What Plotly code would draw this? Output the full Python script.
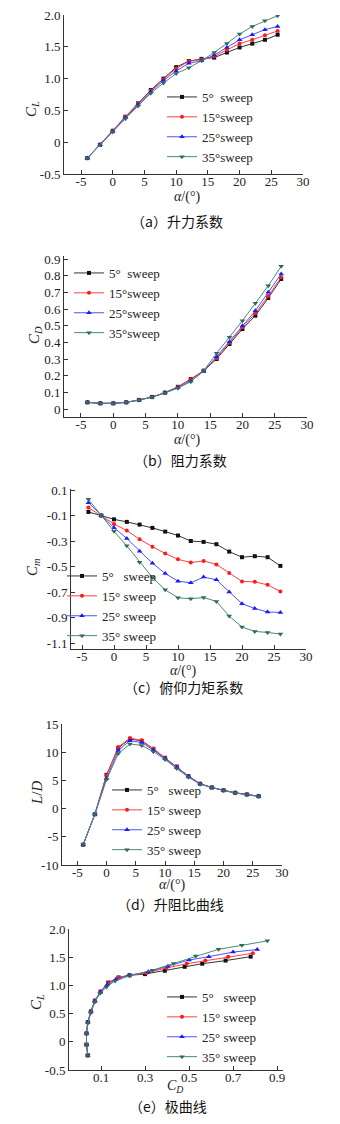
import plotly.graph_objects as go

# ---------------- data ----------------
alpha = [-4, -2, 0, 2, 4, 6, 8, 10, 12, 14, 16, 18, 20, 22, 24, 26]
series_names = ["5\u00b0\u00a0\u00a0sweep", "15\u00b0sweep", "25\u00b0sweep", "35\u00b0sweep"]
series_names_b = ["5\u00b0\u00a0\u00a0\u00a0sweep", "15\u00b0\u00a0sweep", "25\u00b0\u00a0sweep", "35\u00b0\u00a0sweep"]

cl_5 = [-0.25, -0.04, 0.18, 0.40, 0.61, 0.82, 1.00, 1.18, 1.275, 1.31, 1.33, 1.41, 1.49, 1.55, 1.61, 1.69]
cl_15 = [-0.25, -0.04, 0.18, 0.40, 0.61, 0.81, 0.99, 1.16, 1.27, 1.30, 1.35, 1.45, 1.55, 1.61, 1.68, 1.75]
cl_25 = [-0.25, -0.04, 0.17, 0.39, 0.59, 0.79, 0.97, 1.12, 1.24, 1.28, 1.37, 1.49, 1.61, 1.69, 1.77, 1.82]
cl_35 = [-0.25, -0.04, 0.16, 0.37, 0.57, 0.77, 0.93, 1.08, 1.17, 1.28, 1.41, 1.55, 1.70, 1.82, 1.91, 1.99]

cd_5 = [0.040, 0.034, 0.034, 0.040, 0.054, 0.072, 0.098, 0.133, 0.180, 0.230, 0.300, 0.390, 0.480, 0.560, 0.666, 0.780]
cd_15 = [0.040, 0.034, 0.034, 0.040, 0.054, 0.072, 0.098, 0.132, 0.178, 0.230, 0.306, 0.398, 0.490, 0.574, 0.678, 0.790]
cd_25 = [0.040, 0.034, 0.034, 0.040, 0.054, 0.072, 0.097, 0.128, 0.168, 0.226, 0.314, 0.404, 0.500, 0.590, 0.700, 0.810]
cd_35 = [0.040, 0.034, 0.034, 0.040, 0.054, 0.071, 0.096, 0.125, 0.164, 0.230, 0.334, 0.430, 0.530, 0.634, 0.740, 0.856]

cm_5 = [-0.072, -0.10, -0.13, -0.15, -0.171, -0.197, -0.226, -0.257, -0.30, -0.307, -0.325, -0.383, -0.427, -0.419, -0.427, -0.495]
cm_15 = [-0.038, -0.10, -0.166, -0.218, -0.286, -0.344, -0.398, -0.443, -0.469, -0.456, -0.484, -0.55, -0.617, -0.62, -0.644, -0.696]
cm_25 = [0.001, -0.10, -0.195, -0.28, -0.38, -0.474, -0.555, -0.615, -0.628, -0.583, -0.604, -0.70, -0.792, -0.829, -0.857, -0.86]
cm_35 = [0.027, -0.10, -0.224, -0.338, -0.466, -0.586, -0.683, -0.745, -0.753, -0.743, -0.774, -0.889, -0.975, -1.009, -1.017, -1.03]

ld_5 = [-6.4, -1.0, 6.0, 10.75, 12.35, 12.0, 10.6, 9.0, 7.45, 5.75, 4.4, 3.75, 3.25, 2.8, 2.5, 2.2]
ld_15 = [-6.4, -1.0, 5.9, 10.9, 12.5, 12.1, 10.6, 9.0, 7.45, 5.75, 4.4, 3.75, 3.25, 2.8, 2.5, 2.2]
ld_25 = [-6.4, -1.0, 5.4, 10.3, 12.05, 11.7, 10.4, 8.9, 7.3, 5.7, 4.4, 3.7, 3.2, 2.8, 2.5, 2.2]
ld_35 = [-6.4, -1.0, 5.15, 9.75, 11.46, 11.2, 10.1, 8.7, 7.1, 5.55, 4.3, 3.7, 3.2, 2.75, 2.45, 2.15]

polar_cl_5 = [-0.24, -0.05, 0.15, 0.35, 0.54, 0.73, 0.89, 1.05, 1.14, 1.18, 1.20, 1.26, 1.33, 1.385, 1.44, 1.51]
polar_cl_15 = [-0.24, -0.05, 0.15, 0.35, 0.54, 0.73, 0.89, 1.04, 1.14, 1.18, 1.22, 1.31, 1.385, 1.44, 1.51, 1.57]
polar_cl_25 = [-0.24, -0.05, 0.15, 0.35, 0.53, 0.72, 0.88, 1.01, 1.11, 1.18, 1.24, 1.34, 1.45, 1.51, 1.59, 1.636]
polar_cl_35 = [-0.24, -0.05, 0.14, 0.33, 0.52, 0.70, 0.86, 0.97, 1.08, 1.17, 1.27, 1.39, 1.52, 1.64, 1.71, 1.79]

alpha_ticks = [-5, 0, 5, 10, 15, 20, 25, 30]
alpha_ticktext = ["-5", "0", "5", "10", "15", "20", "25", "30"]
cl_ticks = [-0.5, 0, 0.5, 1.0, 1.5, 2.0]
cl_ticktext = ["-0.5", "0", "0.5", "1.0", "1.5", "2.0"]
cd_ticks = [0, 0.1, 0.2, 0.3, 0.4, 0.5, 0.6, 0.7, 0.8, 0.9]
cd_ticktext = ["0", "0.1", "0.2", "0.3", "0.4", "0.5", "0.6", "0.7", "0.8", "0.9"]
cm_ticks = [0.1, -0.1, -0.3, -0.5, -0.7, -0.9, -1.1]
cm_ticktext = ["0.1", "-0.1", "-0.3", "-0.5", "-0.7", "-0.9", "-1.1"]
ld_ticks = [-10, -5, 0, 5, 10, 15]
ld_ticktext = ["-10", "-5", "0", "5", "10", "15"]
polar_x_ticks = [0.1, 0.3, 0.5, 0.7, 0.9]
polar_x_ticktext = ["0.1", "0.3", "0.5", "0.7", "0.9"]

captions = ["（a）升力系数", "（b）阻力系数", "（c）俯仰力矩系数", "（d）升阻比曲线", "（e）极曲线"]

# ---------------- styles ----------------
W, H = 340, 1124
colors = ["#111111", "#ff1a1a", "#1a1aff", "#2f6b5c"]
line_colors = ["#333333", "#ff4040", "#5050ff", "#4d8a7a"]
symbols = ["square", "circle", "triangle-up", "triangle-down"]
msize = [4, 4, 5, 5]
SERIF = "Liberation Serif, Times New Roman, serif"
CJK = "Noto Sans CJK SC, Liberation Serif, serif"

def px_x(p):
    return p / W

def px_y(p):
    return 1 - p / H

panels = [
    dict(xd=(64, 303), yd=(15, 174), xr=[-7.68, 30], yr=[-0.5, 2.0]),
    dict(xd=(64, 307), yd=(256, 417), xr=[-7.63, 30], yr=[-0.048, 0.918]),
    dict(xd=(71, 306), yd=(489, 649), xr=[-6.72, 30], yr=[-1.147, 0.108]),
    dict(xd=(62, 282), yd=(724, 865), xr=[-7.62, 30], yr=[-10, 15]),
    dict(xd=(69, 283), yd=(929, 1070), xr=[-0.0455, 0.927], yr=[-0.5, 2.0]),
]

fig = go.Figure()

data_sets = [
    (alpha, [cl_5, cl_15, cl_25, cl_35]),
    (alpha, [cd_5, cd_15, cd_25, cd_35]),
    (alpha, [cm_5, cm_15, cm_25, cm_35]),
    (alpha, [ld_5, ld_15, ld_25, ld_35]),
    (None, [polar_cl_5, polar_cl_15, polar_cl_25, polar_cl_35]),
]
cds = [cd_5, cd_15, cd_25, cd_35]

for pi, (xs, ys_list) in enumerate(data_sets):
    sfx = "" if pi == 0 else str(pi + 1)
    names = series_names if pi < 2 else series_names_b
    for si, ys in enumerate(ys_list):
        xv = xs if xs is not None else cds[si]
        fig.add_trace(go.Scatter(
            x=xv, y=ys, mode="lines+markers", name=names[si],
            line=dict(color=line_colors[si], width=1),
            marker=dict(symbol=symbols[si], size=msize[si], color=colors[si]),
            xaxis="x" + sfx, yaxis="y" + sfx,
            legend="legend" + sfx, showlegend=True,
        ))

tick_font = dict(family=SERIF, size=13, color="#222222")
layout = dict(
    width=W, height=H, margin=dict(l=0, r=0, t=0, b=0),
    paper_bgcolor="white", plot_bgcolor="white",
    font=dict(family=SERIF, size=13, color="#222222"),
)

x_ticks = [(alpha_ticks, alpha_ticktext)] * 4 + [(polar_x_ticks, polar_x_ticktext)]
y_ticks = [(cl_ticks, cl_ticktext), (cd_ticks, cd_ticktext), (cm_ticks, cm_ticktext),
           (ld_ticks, ld_ticktext), (cl_ticks, cl_ticktext)]

for pi, p in enumerate(panels):
    sfx = "" if pi == 0 else str(pi + 1)
    ax_common = dict(showgrid=False, zeroline=False, showline=True, linecolor="#333333",
                     linewidth=1, ticks="inside", ticklen=4, tickcolor="#333333",
                     tickfont=tick_font, automargin=False, fixedrange=True)
    xt, xtt = x_ticks[pi]
    yt, ytt = y_ticks[pi]
    layout["xaxis" + sfx] = dict(
        ax_common, domain=[px_x(p["xd"][0]), px_x(p["xd"][1])], range=p["xr"],
        tickmode="array", tickvals=xt, ticktext=xtt,
        anchor="y" + sfx, ticklabelstandoff=-5,
    )
    layout["yaxis" + sfx] = dict(
        ax_common, domain=[px_y(p["yd"][1]), px_y(p["yd"][0])], range=p["yr"],
        tickmode="array", tickvals=yt, ticktext=ytt,
        anchor="x" + sfx, ticklabelstandoff=0,
    )

legend_pos = [(162, 82), (69, 258), (62, 561), (107, 775), (162, 982)]
for pi, (lx, ly) in enumerate(legend_pos):
    sfx = "" if pi == 0 else str(pi + 1)
    layout["legend" + sfx] = dict(
        x=px_x(lx), y=px_y(ly), xanchor="left", yanchor="top",
        bgcolor="rgba(0,0,0,0)", borderwidth=0,
        font=dict(family=SERIF, size=13, color="#222222"),
        itemwidth=30, tracegroupgap=0,
    )

annotations = []
cap_pos = [(177, 221), (180, 460), (183, 687), (170, 904), (168, 1106)]
for txt, (cx, cy) in zip(captions, cap_pos):
    annotations.append(dict(text=txt, x=px_x(cx), y=px_y(cy), xref="paper", yref="paper",
                            showarrow=False, xanchor="center", yanchor="middle",
                            font=dict(family=CJK, size=14, color="#111111")))
xtitles = [("<i>α</i>/(°)", 187, 197), ("<i>α</i>/(°)", 187, 440), ("<i>α</i>/(°)", 183, 671),
           ("<i>α</i>/(°)", 172, 885), ("<i>C</i><sub><i>D</i></sub>", 175, 1086)]
for txt, cx, cy in xtitles:
    annotations.append(dict(text=txt, x=px_x(cx), y=px_y(cy), xref="paper", yref="paper",
                            showarrow=False, xanchor="center", yanchor="middle",
                            font=dict(family=SERIF, size=14, color="#222222")))
ytitles = [("<i>C</i><sub><i>L</i></sub>", 32, 109), ("<i>C</i><sub><i>D</i></sub>", 35, 335),
           ("<i>C</i><sub><i>m</i></sub>", 33, 567), ("<i>L</i>/<i>D</i>", 37, 793),
           ("<i>C</i><sub><i>L</i></sub>", 37, 1002)]
for txt, cx, cy in ytitles:
    annotations.append(dict(text=txt, x=px_x(cx), y=px_y(cy), xref="paper", yref="paper",
                            showarrow=False, xanchor="center", yanchor="middle", textangle=-90,
                            font=dict(family=SERIF, size=15, color="#222222")))
layout["annotations"] = annotations

fig.update_layout(**layout)
fig.write_html(
    "out.html",
    config={"displayModeBar": False},
    post_script="document.documentElement.style.margin='0';document.body.style.margin='0';"
                "document.body.style.padding='0';document.body.style.overflow='hidden';",
)
